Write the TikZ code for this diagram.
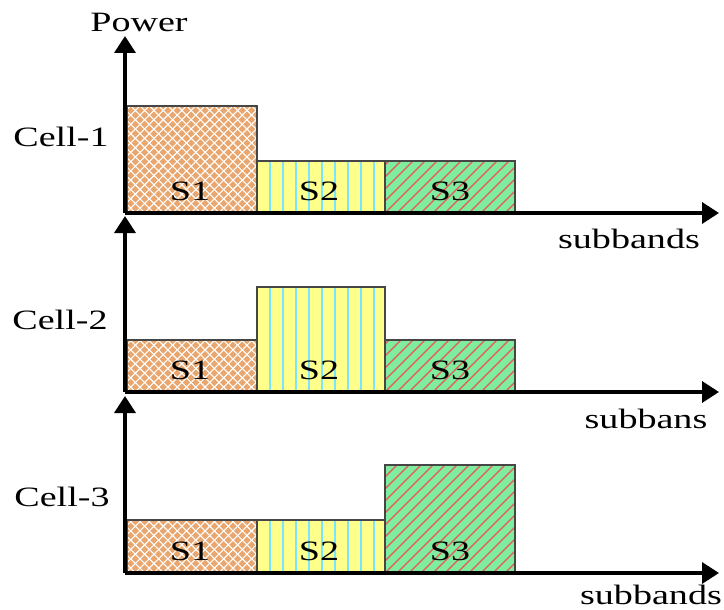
\documentclass[tikz,border=0pt]{standalone}
\usepackage{fontspec}
\setmainfont{Liberation Serif}
\usetikzlibrary{arrows.meta}
\definecolor{orgF}{RGB}{233,166,110}
\definecolor{yelF}{RGB}{255,255,140}
\definecolor{cyaL}{RGB}{120,230,255}
\definecolor{grnF}{RGB}{128,236,160}
\definecolor{redL}{RGB}{232,88,78}
\definecolor{frameC}{RGB}{70,70,70}
\newcommand\hs[1]{\scalebox{1.36}[1]{#1}}
\newcommand\barone[4]{%
  \begin{scope}
    \clip (#1,#2) rectangle (#3,#4);
    \fill[orgF] (#1,#2) rectangle (#3,#4);
    \foreach \k in {0,...,50} {
      \draw[white, line width=1.1pt] (#1-150+\k*9.3,#4) -- ++(160,-160);
      \draw[white, line width=1.1pt] (#1-10+\k*9.3,#4) -- ++(-160,-160);
    }
  \end{scope}
  \draw[barframe] (#1,#2) rectangle (#3,#4);}
\newcommand\bartwo[4]{%
  \begin{scope}
    \clip (#1,#2) rectangle (#3,#4);
    \fill[yelF] (#1,#2) rectangle (#3,#4);
    \foreach \k in {1,...,9} {
      \draw[cyaL, line width=1.3pt] (#1+\k*13,#4) -- ++(0,-160);
    }
  \end{scope}
  \draw[barframe] (#1,#2) rectangle (#3,#4);}
\newcommand\barthree[4]{%
  \begin{scope}
    \clip (#1,#2) rectangle (#3,#4);
    \fill[grnF] (#1,#2) rectangle (#3,#4);
    \foreach \k in {0,...,30} {
      \draw[redL, line width=1.4pt] (#1-120+\k*12,#4) -- ++(160,-160);
    }
  \end{scope}
  \draw[barframe] (#1,#2) rectangle (#3,#4);}
\begin{document}
\begin{tikzpicture}[x=1pt,y=-1pt,
  font=\fontsize{28}{30}\selectfont,
  axis/.style={line width=3.5pt, -{Triangle[width=21pt,length=17pt]}},
  barframe/.style={draw=frameC, line width=1.1pt},
  lbl/.style={inner sep=0pt, anchor=center}]
\useasboundingbox[fill=white] (0,0) rectangle (724,610);

% Panel 1
\barone{127}{106}{257}{213}
\bartwo{257}{161}{385}{213}
\barthree{385}{161}{515}{213}
% Panel 2
\barone{127}{340}{257}{392}
\bartwo{257}{287}{385}{392}
\barthree{385}{340}{515}{392}
% Panel 3
\barone{127}{520}{257}{573}
\bartwo{257}{520}{385}{573}
\barthree{385}{465}{515}{573}

% bar labels
\node[lbl] (p1s1) at (190,191) {\hs{S1}};
\node[lbl] (p1s2) at (319,191) {\hs{S2}};
\node[lbl] (p1s3) at (450,191) {\hs{S3}};
\node[lbl] (p2s1) at (190,370) {\hs{S1}};
\node[lbl] (p2s2) at (319,370) {\hs{S2}};
\node[lbl] (p2s3) at (450,370) {\hs{S3}};
\node[lbl] (p3s1) at (190,551) {\hs{S1}};
\node[lbl] (p3s2) at (319,551) {\hs{S2}};
\node[lbl] (p3s3) at (450,551) {\hs{S3}};

% axes
\coordinate (o1) at (125,213);
\coordinate (o2) at (125,392);
\coordinate (o3) at (125,573);
\coordinate (y1) at (125,36);
\coordinate (y2) at (125,216);
\coordinate (y3) at (125,396);
\coordinate (x1) at (719,213);
\coordinate (x2) at (719,392);
\coordinate (x3) at (719,573);
\draw[axis] (o1) -- (y1);
\draw[axis] (o2) -- (y2);
\draw[axis] (o3) -- (y3);
\draw[axis] (o1) -- (x1);
\draw[axis] (o2) -- (x2);
\draw[axis] (o3) -- (x3);

% texts
\node[lbl] (power) at (139,22) {\hs{Power}};
\node[lbl] (cell1) at (61,137) {\hs{Cell-1}};
\node[lbl] (cell2) at (60,320) {\hs{Cell-2}};
\node[lbl] (cell3) at (62,497) {\hs{Cell-3}};
\node[lbl] (sb1) at (629,239) {\hs{subbands}};
\node[lbl] (sb2) at (646,419) {\hs{subbans}};
\node[lbl] (sb3) at (651,595) {\hs{subbands}};
\end{tikzpicture}
\end{document}
